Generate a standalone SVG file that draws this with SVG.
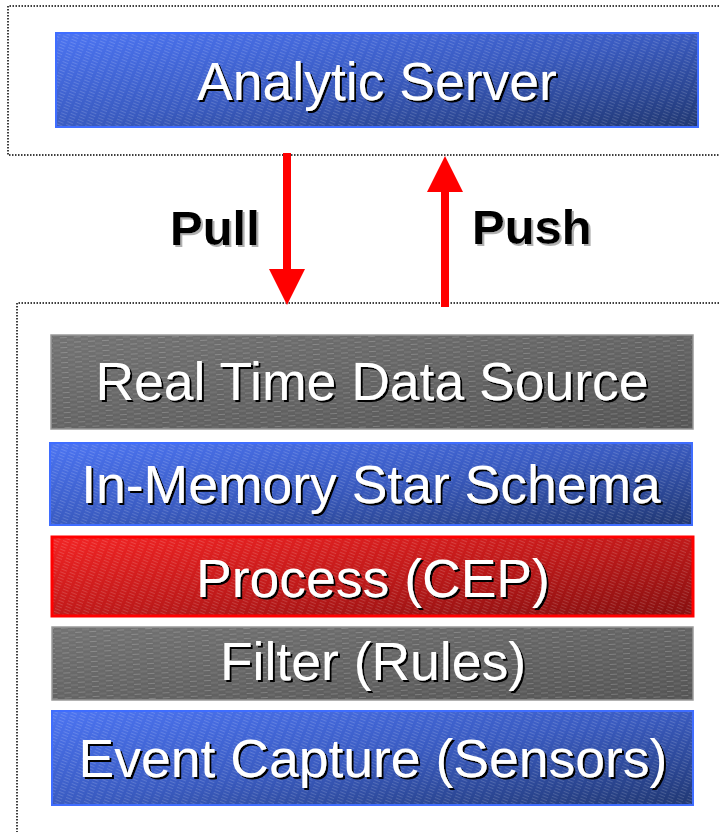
<svg xmlns="http://www.w3.org/2000/svg" width="719" height="832" viewBox="0 0 719 832">
  <defs>
    <linearGradient id="gBlue" x1="0" y1="0" x2="1" y2="1">
      <stop offset="0" stop-color="#4c74f2"/>
      <stop offset="0.5" stop-color="#3a5bc0"/>
      <stop offset="1" stop-color="#213873"/>
    </linearGradient>
    <linearGradient id="gGrey" x1="0" y1="0" x2="1" y2="1">
      <stop offset="0" stop-color="#737373"/>
      <stop offset="1" stop-color="#555555"/>
    </linearGradient>
    <linearGradient id="gRed" x1="0" y1="0" x2="1" y2="1">
      <stop offset="0" stop-color="#f22424"/>
      <stop offset="0.5" stop-color="#c01a1a"/>
      <stop offset="1" stop-color="#861010"/>
    </linearGradient>
    <pattern id="texDiag" width="9" height="3" patternUnits="userSpaceOnUse" patternTransform="rotate(22)">
      <rect x="0" y="0" width="6" height="1" fill="#ffffff" fill-opacity="0.16"/>
    </pattern>
    <pattern id="texHor" width="14" height="5" patternUnits="userSpaceOnUse" patternTransform="rotate(-3)">
      <rect x="0" y="0" width="7" height="1" fill="#ffffff" fill-opacity="0.2"/>
      <rect x="7" y="2.5" width="7" height="1" fill="#ffffff" fill-opacity="0.14"/>
    </pattern>
    <filter id="shW" x="-5%" y="-20%" width="110%" height="140%">
      <feOffset in="SourceAlpha" dx="2" dy="2" result="o"/>
      <feFlood flood-color="#000000"/>
      <feComposite operator="in" in2="o" result="s"/>
      <feMerge><feMergeNode in="s"/><feMergeNode in="SourceGraphic"/></feMerge>
    </filter>
    <filter id="shG" x="-10%" y="-20%" width="120%" height="140%">
      <feOffset in="SourceAlpha" dx="2" dy="2" result="o"/>
      <feFlood flood-color="#b0b0b0"/>
      <feComposite operator="in" in2="o" result="s"/>
      <feMerge><feMergeNode in="s"/><feMergeNode in="SourceGraphic"/></feMerge>
    </filter>
  </defs>
  <style>
    .dot { fill: none; stroke: #000; stroke-width: 1.5; stroke-dasharray: 1.5 1.5; }
    .lbl { font-family: "Liberation Sans", Arial, sans-serif; font-size: 53.5px; fill: #fff; text-anchor: middle; filter: url(#shW); }
    .act { font-family: "Liberation Sans", Arial, sans-serif; font-size: 49px; font-weight: bold; fill: #000; filter: url(#shG); }
    .blue { fill: url(#gBlue); stroke: #3f6dff; stroke-width: 2; }
    .grey { fill: url(#gGrey); stroke: #9a9a9a; stroke-width: 1.5; }
    .red { fill: url(#gRed); stroke: #ff0000; stroke-width: 3; }
    .arr { fill: #ff0000; }
  </style>
  <rect width="719" height="832" fill="#ffffff"/>

  <g id="frames">
    <path class="dot" d="M725 6 H8 V155 H725"/>
    <path class="dot" d="M725 303 H17 V840"/>
  </g>

  <g id="analytic-server">
    <rect class="blue" x="56" y="33" width="642" height="94"/>
    <rect x="57" y="34" width="640" height="92" fill="url(#texDiag)"/>
    <text class="lbl" x="377" y="100">Analytic Server</text>
  </g>

  <g id="real-time-data-source">
    <rect class="grey" x="51" y="335" width="642" height="94"/>
    <rect x="52" y="336" width="640" height="92" fill="url(#texHor)"/>
    <text class="lbl" x="372" y="400">Real Time Data Source</text>
  </g>

  <g id="in-memory-star-schema">
    <rect class="blue" x="50" y="443" width="642" height="82"/>
    <rect x="51" y="444" width="640" height="80" fill="url(#texDiag)"/>
    <text class="lbl" x="371" y="503">In-Memory Star Schema</text>
  </g>

  <g id="process-cep">
    <rect class="red" x="52" y="537" width="641" height="79"/>
    <rect x="53.5" y="538.5" width="638" height="76" fill="url(#texDiag)"/>
    <text class="lbl" x="373" y="597">Process (CEP)</text>
  </g>

  <g id="filter-rules">
    <rect class="grey" x="52" y="627" width="641" height="73"/>
    <rect x="53" y="628" width="639" height="71" fill="url(#texHor)"/>
    <text class="lbl" x="373" y="680">Filter (Rules)</text>
  </g>

  <g id="event-capture">
    <rect class="blue" x="52" y="711" width="641" height="94"/>
    <rect x="53" y="712" width="639" height="92" fill="url(#texDiag)"/>
    <text class="lbl" x="373" y="777">Event Capture (Sensors)</text>
  </g>

  <g id="connectors">
    <g id="pull-arrow">
      <rect class="arr" x="283" y="153" width="8" height="118"/>
      <polygon class="arr" points="269,269 305,269 287,305"/>
    </g>
    <g id="push-arrow">
      <rect class="arr" x="441" y="190" width="8" height="117"/>
      <polygon class="arr" points="427,192 463,192 445,156"/>
    </g>
    <text class="act" x="170" y="245">Pull</text>
    <text class="act" x="472" y="244">Push</text>
  </g>
</svg>
